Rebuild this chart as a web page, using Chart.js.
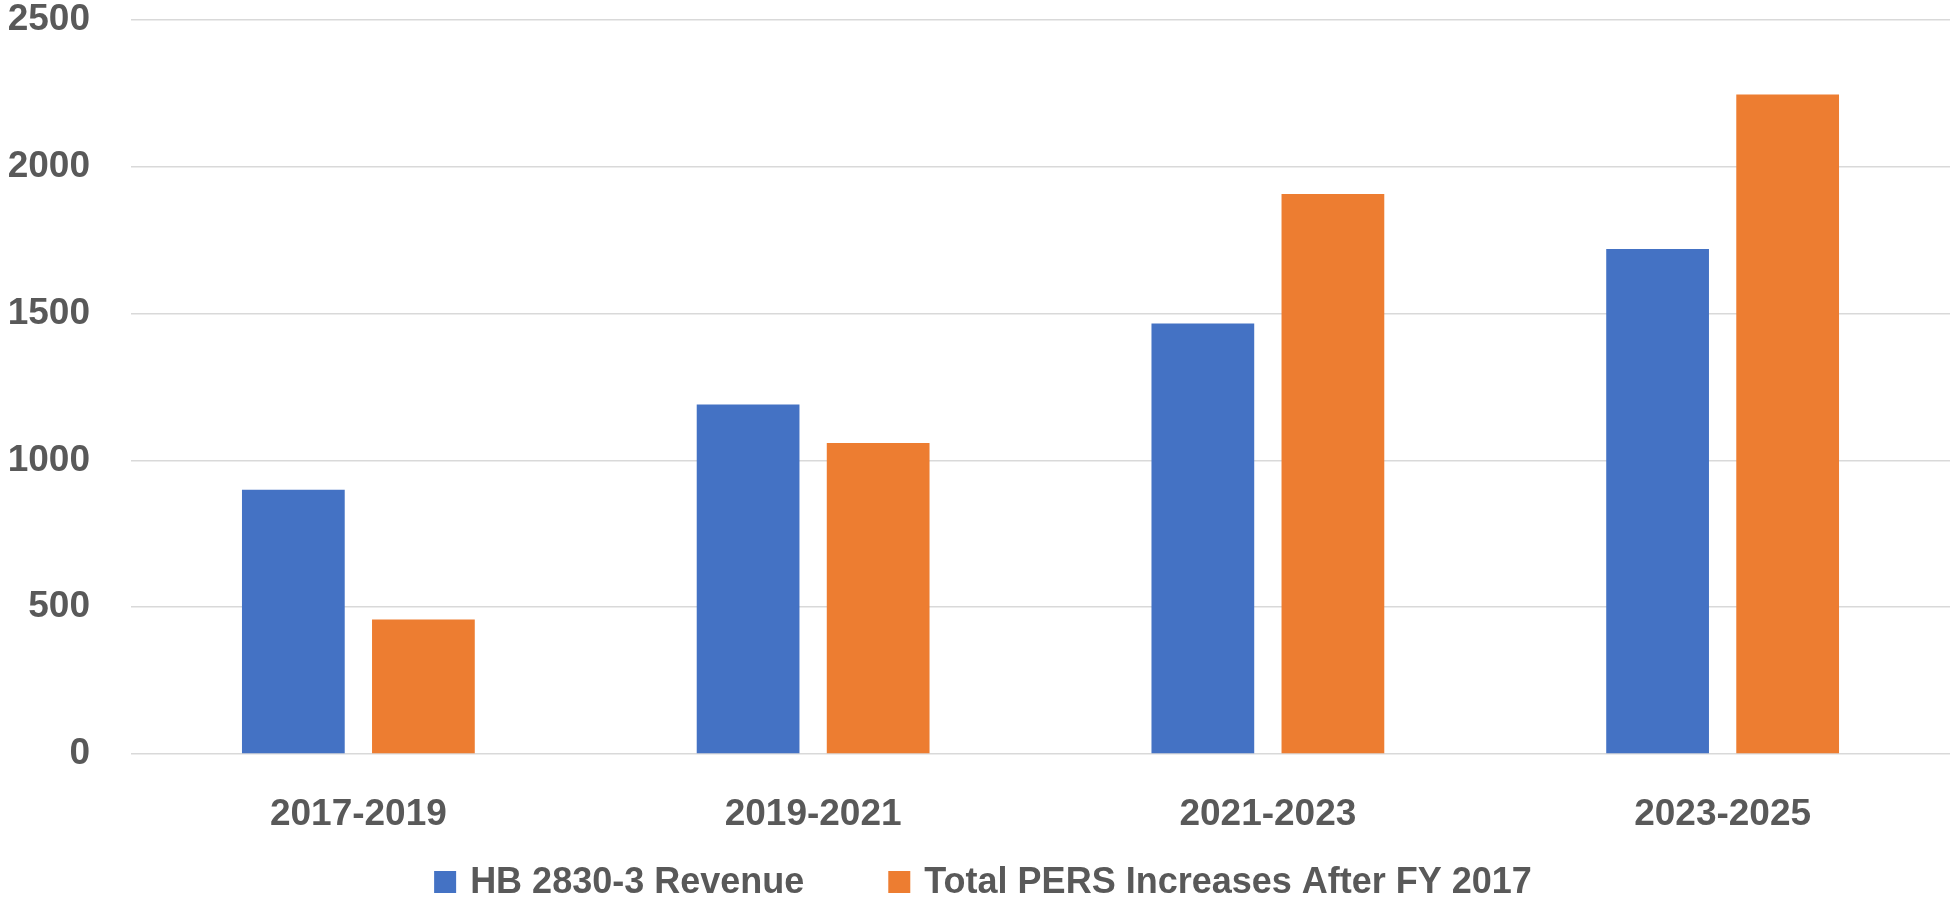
<!DOCTYPE html>
<html>
<head>
<meta charset="utf-8">
<script src="https://cdn.jsdelivr.net/npm/chart.js@4.4.0/dist/chart.umd.min.js"></script>
<style>
  html, body { margin: 0; padding: 0; background: #fff; }
  #wrap { width: 1950px; height: 900px; position: relative; }
</style>
</head>
<body>
<div id="wrap"><canvas id="chart"></canvas></div>
<script>
const periods = ["2017-2019", "2019-2021", "2021-2023", "2023-2025"];
const revenue = [900, 1190, 1466, 1720];
const persIncreases = [458, 1059, 1907, 2246];
const seriesNames = ["HB 2830-3 Revenue", "Total PERS Increases After FY 2017"];
const yTicks = [0, 500, 1000, 1500, 2000, 2500];

const textColor = "#595959";
const fontFamily = "'Liberation Sans', Arial, sans-serif";

// legend drawn by hand so the spacing can match the original
const bottomLegend = {
  id: "bottomLegend",
  afterDraw(chart) {
    const ctx = chart.ctx;
    const sets = chart.data.datasets;
    const box = 22, gapText = 14, gapItem = 84;
    ctx.save();
    ctx.font = "bold 36px " + fontFamily;
    ctx.textBaseline = "middle";
    let total = 0;
    sets.forEach((ds, i) => {
      total += box + gapText + ctx.measureText(ds.label).width;
      if (i < sets.length - 1) total += gapItem;
    });
    let x = 983 - total / 2;
    const y = 882;
    sets.forEach((ds) => {
      ctx.fillStyle = ds.backgroundColor;
      ctx.fillRect(x, y - box / 2, box, box);
      x += box + gapText;
      ctx.fillStyle = textColor;
      ctx.fillText(ds.label, x, y + 1);
      x += ctx.measureText(ds.label).width + gapItem;
    });
    ctx.restore();
  },
};

new Chart(document.getElementById("chart"), {
  type: "bar",
  data: {
    labels: periods,
    datasets: [
      {
        label: seriesNames[0],
        data: revenue,
        backgroundColor: "#4472C4",
        categoryPercentage: 0.572,
        barPercentage: 0.79,
      },
      {
        label: seriesNames[1],
        data: persIncreases,
        backgroundColor: "#ED7D31",
        categoryPercentage: 0.572,
        barPercentage: 0.79,
      },
    ],
  },
  options: {
    responsive: true,
    maintainAspectRatio: false,
    animation: false,
    layout: { padding: { top: 20, right: 0, bottom: 56, left: 0 } },
    plugins: {
      legend: { display: false },
      tooltip: { enabled: false },
    },
    scales: {
      x: {
        grid: { display: false },
        border: { display: false },
        ticks: {
          color: textColor,
          padding: 31,
          font: { family: fontFamily, size: 37, weight: "bold" },
        },
        afterFit: (scale) => {
          scale.height = 90;
          scale.paddingLeft = 0;
          scale.paddingRight = 0;
        },
      },
      y: {
        min: 0,
        max: 2500,
        grid: { color: "#D9D9D9", lineWidth: 1.5, drawTicks: false },
        border: { display: false },
        afterBuildTicks: (scale) => {
          scale.ticks = yTicks.map((v) => ({ value: v }));
        },
        ticks: {
          color: textColor,
          padding: 41,
          callback: (v) => String(v),
          font: { family: fontFamily, size: 37, weight: "bold", lineHeight: 1 },
        },
        afterFit: (scale) => {
          scale.width = 131;
          scale.paddingTop = 0;
          scale.paddingBottom = 0;
        },
      },
    },
  },
  plugins: [bottomLegend],
});
</script>
</body>
</html>
